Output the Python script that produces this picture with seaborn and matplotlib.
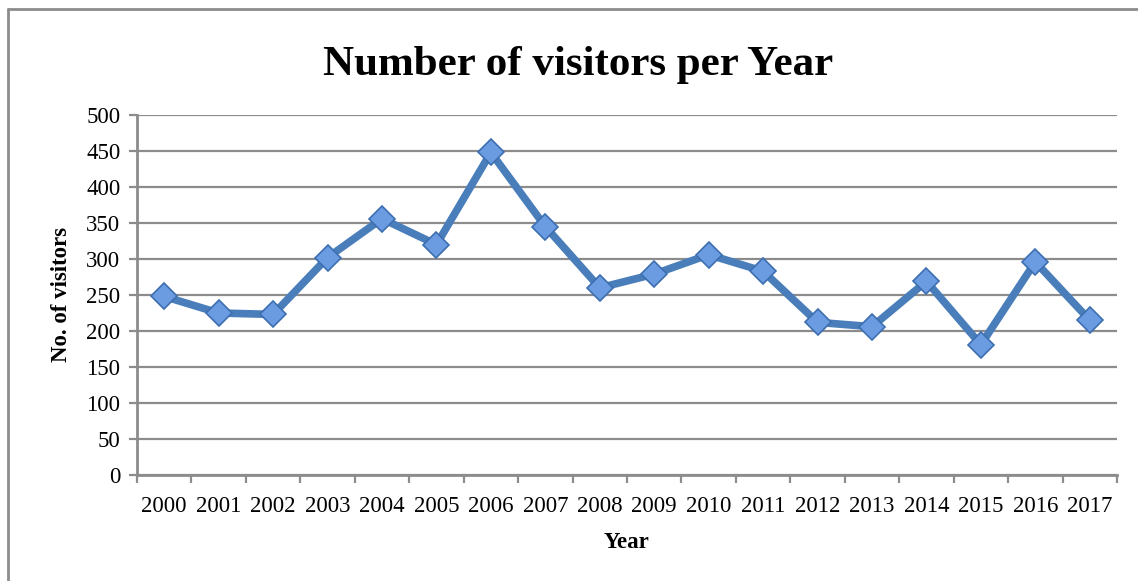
import matplotlib
matplotlib.use("Agg")
import matplotlib.pyplot as plt
from matplotlib.lines import Line2D
from matplotlib.ticker import FixedLocator, MultipleLocator
import seaborn as sns
import pandas as pd
import numpy as np

years = ["2000", "2001", "2002", "2003", "2004", "2005", "2006", "2007", "2008",
         "2009", "2010", "2011", "2012", "2013", "2014", "2015", "2016", "2017"]
visitors = [248, 225, 223, 302, 356, 320, 448, 345, 260,
            279, 306, 283, 212, 206, 269, 181, 296, 215]
title = "Number of visitors per Year"
xlabel = "Year"
ylabel = "No. of visitors"

sns.set_theme(style="white")
plt.rcParams["font.family"] = ["Liberation Serif", "DejaVu Serif"]
plt.rcParams["text.color"] = "black"
plt.rcParams["axes.labelcolor"] = "black"

df = pd.DataFrame({"Year": years, "Visitors": visitors})

fig = plt.figure(figsize=(11.38, 5.81), dpi=100)
ax = fig.add_axes([137 / 1138, 1 - 475 / 581, 980 / 1138, 360 / 581])

grid_color = "#8c8c8c"
ax.set_ylim(0, 500)
ax.yaxis.set_major_locator(MultipleLocator(50))
ax.grid(axis="y", color=grid_color, linewidth=1.6, zorder=0)
ax.set_axisbelow(True)

sns.lineplot(data=df, x="Year", y="Visitors", ax=ax, sort=False,
             color="#4a7ebb", linewidth=5.5, marker="D", markersize=13,
             markerfacecolor="#6b9be0", markeredgecolor="#3d6fb0",
             markeredgewidth=1.2, zorder=3)

ax.set_xlim(-0.5, len(years) - 0.5)
ax.set_xticks(range(len(years)))
ax.set_xticklabels(years)
ax.xaxis.set_minor_locator(FixedLocator(np.arange(-0.5, len(years), 1.0)))
ax.tick_params(axis="x", which="major", length=0, pad=15, labelsize=16.5,
               labelcolor="black")
ax.tick_params(axis="x", which="minor", length=6, width=1.6, color=grid_color,
               direction="out", bottom=True)
ax.tick_params(axis="y", which="major", length=6, width=1.6, color=grid_color,
               direction="out", left=True, labelsize=16.5, pad=6,
               labelcolor="black")

for s in ["top", "right"]:
    ax.spines[s].set_visible(False)
for s in ["left", "bottom"]:
    ax.spines[s].set_color(grid_color)
    ax.spines[s].set_linewidth(2)

ax.set_xlabel(xlabel, fontsize=16.5, fontweight="bold", labelpad=11,
              color="black")
ax.set_ylabel(ylabel, fontsize=16.5, fontweight="bold", labelpad=10,
              color="black")

fig.suptitle(title, fontsize=31, fontweight="bold", x=578 / 1138, y=1 - 65 / 581,
             va="center", color="black")

# outer chart frame (top and left edges visible)
fig.add_artist(Line2D([8 / 1138, 1.0], [1 - 9 / 581, 1 - 9 / 581],
                      transform=fig.transFigure, color="#8c8c8c", linewidth=2))
fig.add_artist(Line2D([8 / 1138, 8 / 1138], [0.0, 1 - 9 / 581],
                      transform=fig.transFigure, color="#8c8c8c", linewidth=2))

fig.savefig("out.png", dpi=100)
